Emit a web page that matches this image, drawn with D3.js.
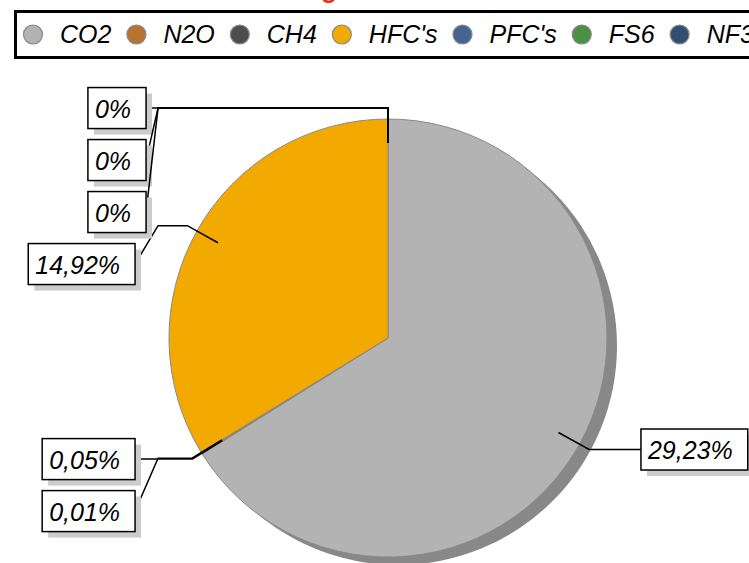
<!DOCTYPE html>
<html>
<head>
<meta charset="utf-8">
<script src="https://cdn.jsdelivr.net/npm/d3@7"></script>
<style>
  body { margin: 0; background: #fff; overflow: hidden; }
  svg { display: block; font-family: 'Liberation Sans', Arial, sans-serif; }
</style>
</head>
<body>
<svg id="chart"></svg>
<script>
/// data ////////////////////////////////
const gases = ['CO2', 'N2O', 'CH4', "HFC's", "PFC's", 'FS6', 'NF3']
const shares = [29.23, 0.05, 0.01, 14.92, 0, 0, 0]
const colors = ['#b3b3b3', '#b87333', '#4d4d4d', '#f2a900', '#436590', '#4a9144', '#334d73']
const title = 'Emisiones de GEI según fuente'

const width = 749
const height = 563

const svg = d3.select('#chart').attr('width', width).attr('height', height)

const data = gases.map((g, i) => ({ name: g, value: shares[i], color: colors[i], i }))

const pct = d3.formatLocale({ decimal: ',', thousands: '.', grouping: [3], currency: ['', ''] }).format('.2~f')

/// title (cut off at the top, only the tail of the g shows) ////////
const titleText = svg
  .append('text')
  .attr('x', 0)
  .attr('y', -2.5)
  .attr('font-size', 26)
  .attr('font-weight', 'bold')
  .attr('fill', '#e63312')
  .text(title)
const gIdx = title.indexOf('g')
const gBox = titleText.node().getExtentOfChar(gIdx)
titleText.attr('x', 329 - (gBox.x + gBox.width / 2))

/// legend ////////////////////////////////
const legend = svg.append('g').attr('class', 'legend')
legend
  .append('rect')
  .attr('x', 15.5)
  .attr('y', 11.5)
  .attr('width', 760)
  .attr('height', 46)
  .attr('fill', '#fff')
  .attr('stroke', '#000')
  .attr('stroke-width', 3)

let lx = 33
data.forEach(d => {
  legend
    .append('circle')
    .attr('cx', lx)
    .attr('cy', 34.5)
    .attr('r', 9.5)
    .attr('fill', d.color)
    .attr('stroke', '#8a8a8a')
    .attr('stroke-width', 1.2)
  const t = legend
    .append('text')
    .attr('x', lx + 27)
    .attr('y', 43)
    .attr('font-size', 25)
    .attr('font-style', 'italic')
    .attr('fill', '#000')
    .text(d.name)
  lx = lx + t.node().getComputedTextLength() + 52
})

/// pie ////////////////////////////////
const cx = 388
const cy = 338
const r = 219

const pie = d3.pie().value(d => d.value).sort(null)
const arcs = pie(data)
const arc = d3.arc().innerRadius(0).outerRadius(r)

const g = svg.append('g').attr('transform', `translate(${cx},${cy})`)

// shadow
g.append('circle')
  .attr('cx', 10)
  .attr('cy', 8)
  .attr('r', r)
  .attr('fill', '#888888')

g.selectAll('path.slice')
  .data(arcs.filter(a => a.value > 0))
  .enter()
  .append('path')
  .attr('class', 'slice')
  .attr('d', arc)
  .attr('fill', a => a.data.color)
  .attr('stroke', '#8a8a8a')
  .attr('stroke-width', 1)

/// labels ////////////////////////////////
arcs.forEach(a => {
  const mid = (a.startAngle + a.endAngle) / 2
  a.inner = [cx + Math.sin(mid) * r * 0.89, cy - Math.cos(mid) * r * 0.89]
  a.elbow = [cx + Math.sin(mid) * r * 1.05, cy - Math.cos(mid) * r * 1.05]
  a.side = Math.sin(mid) > 1e-9 ? 1 : -1
  a.colX = cx + a.side * r * 1.05
})

const boxH = 41
const step = 52
const shadow = 6
;[-1, 1].forEach(side => {
  const list = arcs
    .filter(a => a.side === side)
    .sort((a, b) => Math.round(a.elbow[1] / 10) - Math.round(b.elbow[1] / 10) || a.data.i - b.data.i)
  let prev = -Infinity
  list.forEach(a => {
    a.labelY = Math.max(a.elbow[1], prev + step)
    prev = a.labelY
  })
})

const labels = svg.append('g').attr('class', 'labels')

arcs.forEach(a => {
  const gap = a.value === 0 ? 12 : 23
  const edgeX = a.colX + a.side * gap

  labels
    .append('path')
    .attr('d', d3.line()([a.inner, a.elbow, [a.colX, a.elbow[1]], [edgeX, a.labelY]]))
    .attr('fill', 'none')
    .attr('stroke', '#000')
    .attr('stroke-width', 1.5)

  const lg = labels.append('g')
  const sh = lg.append('rect').attr('fill', '#cccccc')
  const bx = lg.append('rect').attr('fill', '#fff').attr('stroke', '#000').attr('stroke-width', 1.5)
  const t = lg
    .append('text')
    .attr('font-size', 25)
    .attr('font-style', 'italic')
    .attr('fill', '#000')
    .text(pct(a.value) + '%')
  const w = t.node().getComputedTextLength() + 22
  const x0 = a.side > 0 ? edgeX : edgeX - w
  const y0 = a.labelY - boxH / 2
  sh.attr('x', x0 + shadow).attr('y', y0 + shadow).attr('width', w).attr('height', boxH)
  bx.attr('x', x0).attr('y', y0).attr('width', w).attr('height', boxH)
  t.attr('x', x0 + 7).attr('y', a.labelY + 9.5)
})
</script>
</body>
</html>
